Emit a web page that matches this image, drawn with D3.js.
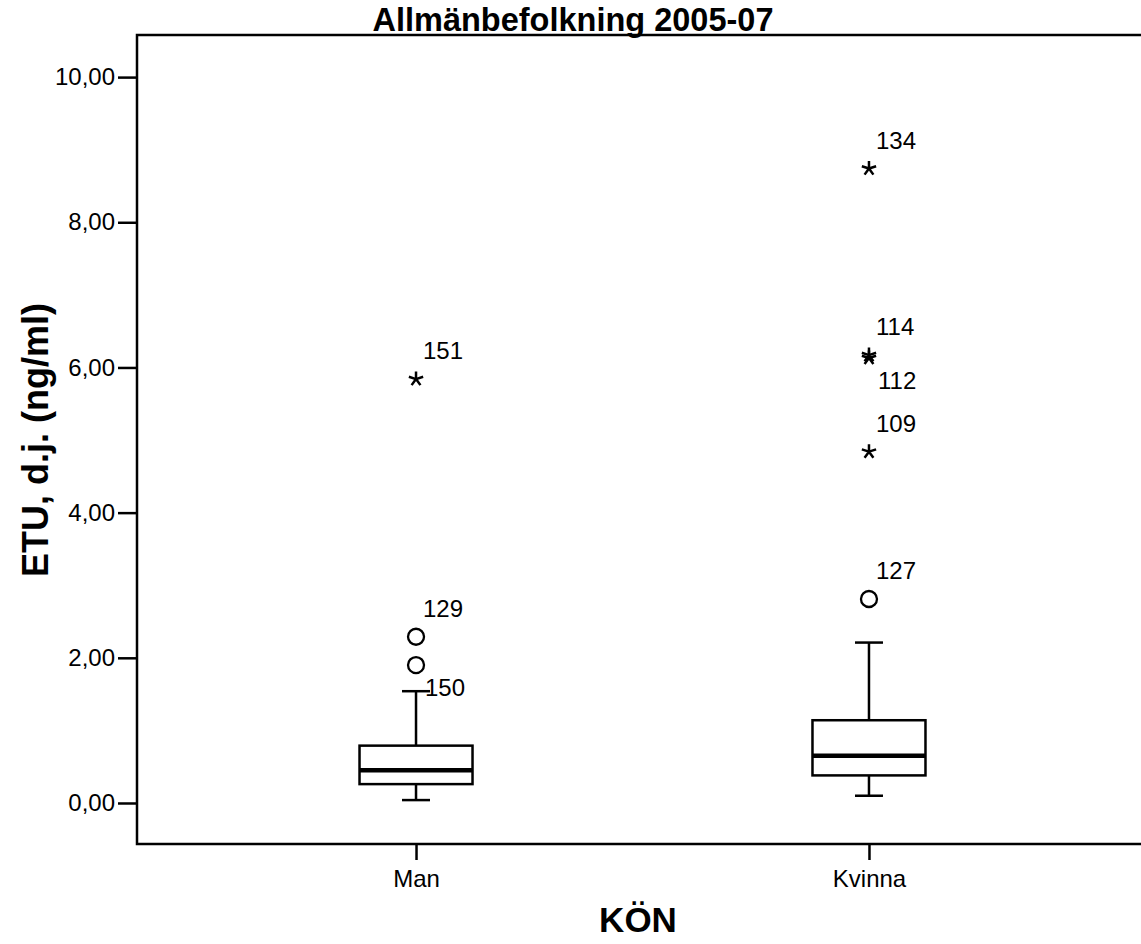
<!DOCTYPE html>
<html>
<head>
<meta charset="utf-8">
<script src="https://cdn.jsdelivr.net/npm/d3@7"></script>
<style>
  html, body { margin: 0; padding: 0; background: #fff; }
  svg { display: block; font-family: "Liberation Sans", Arial, sans-serif; }
</style>
</head>
<body>
<div id="chart"></div>
<script>
'use strict';

// data
var categories = ["Man", "Kvinna"];
var whiskerLow = [0.04, 0.10];
var q1 = [0.26, 0.38];
var median = [0.45, 0.65];
var q3 = [0.79, 1.14];
var whiskerHigh = [1.54, 2.21];

// outliers: o = circle, * = extreme
var outlierGroup = ["Man", "Man", "Man", "Kvinna", "Kvinna", "Kvinna", "Kvinna", "Kvinna"];
var outlierId = ["129", "150", "151", "127", "109", "112", "114", "134"];
var outlierValue = [2.29, 1.90, 5.84, 2.81, 4.84, 6.13, 6.17, 8.74];
var outlierKind = ["o", "o", "*", "o", "*", "*", "*", "*"];

var yTicks = [0, 2, 4, 6, 8, 10];

var width = 1141, height = 944;
var frame = {left: 137, right: 1148, top: 35, bottom: 844};

var svg = d3.select("#chart").append("svg")
    .attr("width", width)
    .attr("height", height);

var x = d3.scalePoint()
    .domain(categories)
    .range([frame.left, frame.right])
    .padding(0.616);

var y = d3.scaleLinear()
    .domain([-0.565, 10.58])
    .range([frame.bottom, frame.top]);

var fmt = d3.formatLocale({decimal: ",", thousands: " ", grouping: [3], currency: ["", ""]}).format(".2f");

// frame
svg.append("rect")
    .attr("x", frame.left)
    .attr("y", frame.top)
    .attr("width", frame.right - frame.left)
    .attr("height", frame.bottom - frame.top)
    .attr("fill", "none")
    .attr("stroke", "#000")
    .attr("stroke-width", 2.5);

// y axis
var yAxis = svg.append("g")
    .attr("transform", "translate(" + frame.left + ",0)")
    .call(d3.axisLeft(y).tickValues(yTicks).tickFormat(fmt).tickSize(19).tickPadding(3));
yAxis.select(".domain").remove();
yAxis.selectAll(".tick line").attr("stroke", "#000").attr("stroke-width", 2.5);
yAxis.selectAll(".tick text")
    .attr("fill", "#000")
    .style("font-size", "24px")
    .style("font-family", "'Liberation Sans', Arial, sans-serif");

// x axis
var xAxis = svg.append("g")
    .attr("transform", "translate(0," + frame.bottom + ")")
    .call(d3.axisBottom(x).tickSize(16).tickPadding(10));
xAxis.select(".domain").remove();
xAxis.selectAll(".tick line").attr("stroke", "#000").attr("stroke-width", 2.5);
xAxis.selectAll(".tick text")
    .attr("fill", "#000")
    .style("font-size", "24px")
    .style("font-family", "'Liberation Sans', Arial, sans-serif");

// boxes
var boxW = 113, capW = 28;
var boxes = svg.append("g").selectAll("g")
    .data(categories)
    .join("g");

boxes.append("line")
    .attr("x1", function(d) { return x(d); })
    .attr("x2", function(d) { return x(d); })
    .attr("y1", function(d, i) { return y(whiskerLow[i]); })
    .attr("y2", function(d, i) { return y(whiskerHigh[i]); })
    .attr("stroke", "#000").attr("stroke-width", 2.5);

boxes.selectAll(".cap")
    .data(function(d, i) { return [{c: d, v: whiskerLow[i]}, {c: d, v: whiskerHigh[i]}]; })
    .join("line")
    .attr("class", "cap")
    .attr("x1", function(d) { return x(d.c) - capW / 2; })
    .attr("x2", function(d) { return x(d.c) + capW / 2; })
    .attr("y1", function(d) { return y(d.v); })
    .attr("y2", function(d) { return y(d.v); })
    .attr("stroke", "#000").attr("stroke-width", 2.5);

boxes.append("rect")
    .attr("x", function(d) { return x(d) - boxW / 2; })
    .attr("width", boxW)
    .attr("y", function(d, i) { return y(q3[i]); })
    .attr("height", function(d, i) { return y(q1[i]) - y(q3[i]); })
    .attr("fill", "#fff")
    .attr("stroke", "#000").attr("stroke-width", 2.5);

boxes.append("line")
    .attr("x1", function(d) { return x(d) - boxW / 2; })
    .attr("x2", function(d) { return x(d) + boxW / 2; })
    .attr("y1", function(d, i) { return y(median[i]); })
    .attr("y2", function(d, i) { return y(median[i]); })
    .attr("stroke", "#000").attr("stroke-width", 4.5);

// outliers
var outliers = outlierId.map(function(id, i) {
    return {id: id, group: outlierGroup[i], value: outlierValue[i], kind: outlierKind[i]};
});
// label goes below when a neighbour sits just above in the same group
outliers.forEach(function(o) {
    o.below = outliers.some(function(p) {
        return p !== o && p.group === o.group && p.value > o.value && p.value - o.value < 0.5;
    });
});

var og = svg.append("g");
og.selectAll("circle")
    .data(outliers.filter(function(d) { return d.kind === "o"; }))
    .join("circle")
    .attr("cx", function(d) { return x(d.group); })
    .attr("cy", function(d) { return y(d.value); })
    .attr("r", 8)
    .attr("fill", "none")
    .attr("stroke", "#000")
    .attr("stroke-width", 2.3);

var starPath = function(cx, cy) {
    var p = d3.path(), r = 7.5;
    for (var k = 0; k < 5; k++) {
        var a = (-90 + k * 72) * Math.PI / 180;
        p.moveTo(cx, cy);
        p.lineTo(cx + r * Math.cos(a), cy + r * Math.sin(a));
    }
    return p.toString();
};

og.selectAll("path.star")
    .data(outliers.filter(function(d) { return d.kind === "*"; }))
    .join("path")
    .attr("class", "star")
    .attr("d", function(d) { return starPath(x(d.group), y(d.value)); })
    .attr("fill", "none")
    .attr("stroke", "#000")
    .attr("stroke-width", 2.5);

og.selectAll("text")
    .data(outliers)
    .join("text")
    .attr("x", function(d) { return x(d.group) + (d.below ? 9 : 7); })
    .attr("y", function(d) { return y(d.value) + (d.below ? 31 : -20); })
    .style("font-size", "24px")
    .attr("fill", "#000")
    .text(function(d) { return d.id; });

// titles
svg.append("text")
    .attr("x", 573)
    .attr("y", 31)
    .attr("text-anchor", "middle")
    .style("font-size", "32.5px")
    .style("font-weight", "bold")
    .text("Allmänbefolkning 2005-07");

svg.append("text")
    .attr("x", 638)
    .attr("y", 932)
    .attr("text-anchor", "middle")
    .style("font-size", "35px")
    .style("font-weight", "bold")
    .text("KÖN");

svg.append("text")
    .attr("transform", "translate(48," + 440 + ") rotate(-90)")
    .attr("text-anchor", "middle")
    .style("font-size", "36px")
    .style("font-weight", "bold")
    .text("ETU, d.j. (ng/ml)");
</script>
</body>
</html>
